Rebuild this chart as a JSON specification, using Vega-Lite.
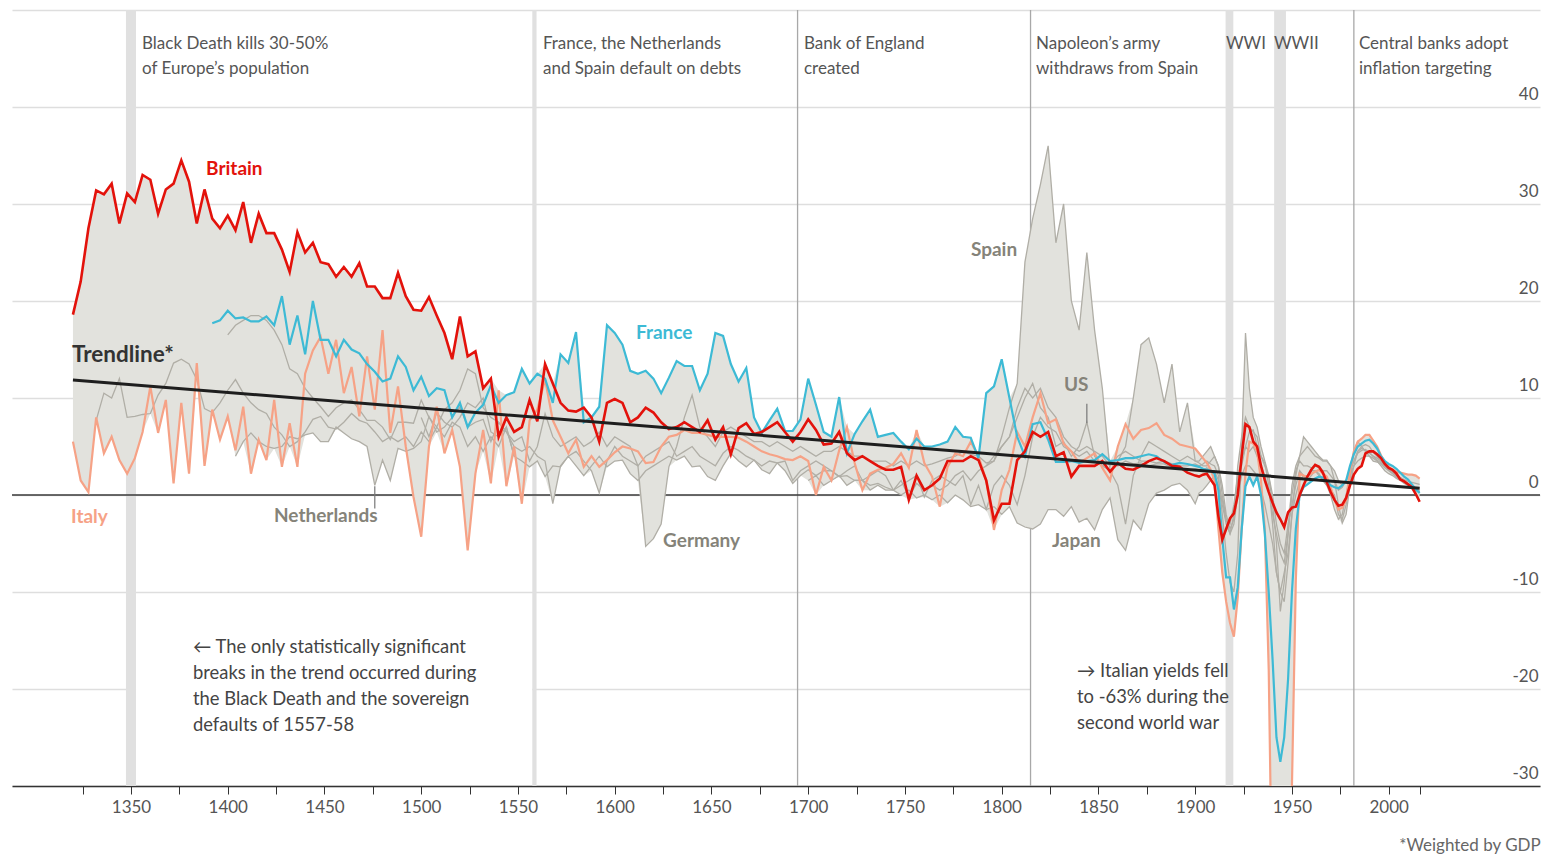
{
"$schema":"https://vega.github.io/schema/vega-lite/v6.json",
"width":1528,"height":776,
"autosize":{"type":"none"},
"padding":{"left":12,"top":10,"right":2,"bottom":68},
"background":"white",
"title":{"text":"*Weighted by GDP","orient":"bottom","anchor":"end","fontSize":17,"fontWeight":"normal","color":"#666666","offset":23,"baseline":"top"},
"config":{"view":{"stroke":null},"font":"Lato"},
"datasets":{
"rates":[
{"year":1320,"B":18.6,"I":5.5},
{"year":1324,"B":22,"I":1.5},
{"year":1328,"B":27.5,"I":0.3},
{"year":1332,"B":31.4,"I":8,"G1":7.7},
{"year":1336,"B":31,"I":4.3,"G1":10.5},
{"year":1340,"B":32.1,"I":6,"G1":10},
{"year":1344,"B":28,"I":3.6,"G1":12},
{"year":1348,"B":31.1,"I":2.2,"G1":8},
{"year":1352,"B":30.2,"I":3.8,"G1":8.1},
{"year":1356,"B":33,"I":6.5,"G1":8.3},
{"year":1360,"B":32.5,"I":11.2,"G1":8.4},
{"year":1364,"B":29,"I":6.4,"G1":10.3},
{"year":1368,"B":31.5,"I":9.8,"G1":11.5},
{"year":1372,"B":32.1,"I":1.2,"G1":13.6},
{"year":1376,"B":34.5,"I":9.5,"G1":14},
{"year":1380,"B":32.3,"I":2.2,"G1":13.5},
{"year":1384,"B":28,"I":13.6,"G1":11.9},
{"year":1388,"B":31.5,"I":3,"G1":8.9},
{"year":1392,"B":28.5,"F":17.7,"I":8.8,"G1":8.5},
{"year":1396,"B":27.5,"F":18,"I":5.7,"G1":9.5},
{"year":1400,"B":28.8,"F":19,"I":8.1,"G1":10.8,"DE":16.5},
{"year":1404,"B":27.3,"F":18.2,"I":4.6,"G1":11.9,"NL":4,"DE":17.5},
{"year":1408,"B":30.2,"F":18.3,"I":9.1,"G1":10.5,"NL":5.5,"DE":18},
{"year":1412,"B":26,"F":17.9,"I":2.2,"G1":9.5,"NL":6.4,"DE":18.5},
{"year":1416,"B":29,"F":17.9,"I":5.7,"G1":8.8,"NL":5.5,"DE":18.5},
{"year":1420,"B":27,"F":18.4,"I":3.6,"G1":8.4,"NL":5,"DE":18},
{"year":1424,"B":27,"F":17.5,"I":9.8,"G1":7,"NL":4.8,"DE":17},
{"year":1428,"B":25.3,"F":20.5,"I":2.9,"G1":6.2,"NL":5,"DE":15.5},
{"year":1432,"B":23,"F":15.5,"I":7.4,"G1":5,"NL":6,"DE":13},
{"year":1436,"B":27.1,"F":18.5,"I":2.9,"G1":5.5,"NL":5.8,"DE":12.5},
{"year":1440,"B":25,"F":14.5,"I":12.5,"G1":6.5,"NL":6.2,"DE":11},
{"year":1444,"B":26,"F":20,"I":14.9,"G1":7.8,"NL":6.4,"DE":10},
{"year":1448,"B":24,"F":16,"I":16.3,"G1":8.1,"NL":5.5,"DE":9.1},
{"year":1452,"B":23.8,"F":16,"I":12.5,"G1":7,"NL":5.5,"DE":8.1},
{"year":1456,"B":22.5,"F":14.3,"I":16,"G1":6.8,"NL":7,"DE":9},
{"year":1460,"B":23.5,"F":16,"I":10.5,"G1":7.5,"NL":6.4,"DE":9.5},
{"year":1464,"B":22.5,"F":15,"I":13.2,"G1":8.4,"NL":5.8,"DE":9.8},
{"year":1468,"B":23.9,"F":14.6,"I":8.1,"G1":7.7,"NL":5.5,"DE":8.8},
{"year":1472,"B":21.5,"F":13.5,"I":14.3,"G1":7.4,"NL":5,"DE":7.7},
{"year":1476,"B":21.5,"F":12.7,"I":8.8,"G1":6.5,"NL":1,"DE":7.7},
{"year":1480,"B":20.3,"F":11.7,"I":17,"G1":5.5,"NL":3.6,"DE":7},
{"year":1484,"B":20.3,"F":12,"I":6.4,"G1":6,"NL":1.5,"DE":5.7},
{"year":1488,"B":22.9,"F":14.3,"I":11.2,"G1":5.5,"NL":4.8,"DE":7.5},
{"year":1492,"B":20.5,"F":13.2,"I":5,"G1":6,"NL":4.5,"DE":7.5},
{"year":1496,"B":19.1,"F":10.8,"I":-0.2,"G1":5,"NL":4.8,"DE":7.4},
{"year":1500,"B":19,"F":12.2,"I":-4.3,"G1":6.5,"NL":5.5,"DE":9.8,"ES":8},
{"year":1504,"B":20.4,"F":10.2,"I":5,"G1":5.5,"NL":8.1,"DE":8,"ES":6},
{"year":1508,"B":18.5,"F":11,"I":9.1,"G1":7,"NL":6.5,"DE":7,"ES":8.5},
{"year":1512,"B":16.7,"F":10.8,"I":4.3,"G1":6,"NL":7,"DE":8.8,"ES":7.5},
{"year":1516,"B":14,"F":8,"I":6.7,"G1":7.5,"NL":8,"DE":9.5,"ES":7},
{"year":1520,"B":18.4,"F":9.5,"I":2.9,"G1":7,"NL":9.1,"DE":10.8,"ES":8},
{"year":1524,"B":14.3,"F":7,"I":-5.7,"G1":5,"NL":7,"DE":13,"ES":9.5},
{"year":1528,"B":14.8,"F":8.5,"I":2.2,"G1":6,"NL":7.5,"DE":12.5,"ES":9},
{"year":1532,"B":11,"F":9.3,"I":6.7,"G1":4.5,"NL":7.8,"DE":9,"ES":10},
{"year":1536,"B":12,"F":11.3,"I":1.2,"G1":6,"NL":5.5,"DE":8,"ES":6.5},
{"year":1540,"B":6,"F":9.5,"I":10.8,"G1":5,"NL":7.5,"DE":7.5,"ES":6},
{"year":1544,"B":8,"F":10.3,"I":0.9,"G1":7,"NL":6.5,"DE":6.5,"ES":7},
{"year":1548,"B":6.5,"F":10.6,"I":5,"G1":4,"NL":5,"DE":5.5,"ES":4},
{"year":1552,"B":7,"F":13,"I":-0.9,"NL":4.5,"DE":6,"ES":3.5},
{"year":1556,"B":9.8,"F":11.5,"I":7.7,"NL":5,"DE":3.5,"ES":2.9},
{"year":1560,"B":7.6,"F":12.5,"I":8.8,"NL":4,"DE":5,"ES":3.5},
{"year":1564,"B":13.5,"F":12,"I":11.9,"NL":3.5,"DE":8.4,"ES":1.9},
{"year":1568,"B":11.5,"F":9.5,"I":7.7,"NL":-0.9,"DE":6,"ES":3},
{"year":1572,"B":9.5,"F":14.5,"I":6,"NL":3,"DE":5,"ES":2.9},
{"year":1576,"B":8.7,"F":13.6,"I":4.3,"NL":4,"DE":5.5,"ES":4},
{"year":1580,"B":8.6,"F":16.8,"I":5.7,"NL":4.5,"DE":6,"ES":3},
{"year":1584,"B":9,"F":7.5,"I":2.9,"NL":3.5,"DE":5,"ES":2},
{"year":1588,"B":8,"F":8,"I":4,"NL":2.5,"DE":5.5,"ES":3},
{"year":1592,"B":5.5,"F":9.1,"I":2.9,"NL":0.2,"DE":6.5,"ES":4},
{"year":1596,"B":9.5,"F":17.5,"I":3.6,"NL":3.5,"DE":5,"ES":2.9},
{"year":1600,"B":9.9,"F":16.7,"I":4.4,"NL":5,"DE":6,"ES":3.5},
{"year":1604,"B":9.5,"F":15.5,"I":5,"NL":4,"DE":5.5,"ES":3.6},
{"year":1608,"B":7.5,"F":12.8,"I":4.8,"NL":3.5,"DE":5,"ES":2.2},
{"year":1612,"B":8,"F":12.5,"I":4.5,"NL":3,"DE":3,"ES":1.5},
{"year":1616,"B":9,"F":12.8,"I":3.3,"NL":4,"DE":-5.3,"ES":2.5},
{"year":1620,"B":8.5,"F":12,"I":3.4,"NL":4.5,"DE":-4.5,"ES":3},
{"year":1624,"B":7.5,"F":10.5,"I":5,"NL":5,"DE":-3,"ES":3.5},
{"year":1628,"B":6.8,"F":12.1,"I":6,"NL":5.5,"DE":2.9,"ES":4},
{"year":1632,"B":7,"F":13.8,"I":6.2,"NL":4,"DE":5,"ES":3.6},
{"year":1636,"B":7.5,"F":13.3,"I":6.7,"NL":4.5,"DE":8,"ES":4},
{"year":1640,"B":7,"F":13.3,"I":6.4,"NL":5,"DE":10.3,"ES":2.9},
{"year":1644,"B":6.5,"F":10.8,"I":6.4,"NL":4,"DE":7,"ES":3},
{"year":1648,"B":7.7,"F":12.5,"I":6.2,"NL":3.5,"DE":6,"ES":1.9},
{"year":1652,"B":5.7,"F":16.7,"I":6,"NL":3,"DE":5,"ES":1.5},
{"year":1656,"B":7,"F":16.4,"I":6,"NL":4.3,"DE":6.5,"ES":3},
{"year":1660,"B":4.2,"F":13.5,"I":6,"NL":5,"DE":7,"ES":4.3},
{"year":1664,"B":6.9,"F":11.7,"I":5.9,"NL":4.6,"DE":6.5,"ES":3.5},
{"year":1668,"B":7.4,"F":13.1,"I":5.5,"NL":4,"DE":6,"ES":2.9},
{"year":1672,"B":6.3,"F":8,"I":5,"NL":3.6,"DE":5.5,"ES":3.6},
{"year":1676,"B":6.5,"F":6.4,"I":4.5,"NL":3,"DE":5.5,"ES":2.6},
{"year":1680,"B":7,"F":7.7,"I":4.2,"NL":3.5,"DE":5,"ES":2.2},
{"year":1684,"B":7.5,"F":8.9,"I":4,"NL":3.3,"DE":5.5,"ES":3.3},
{"year":1688,"B":6.5,"F":6.6,"I":3.7,"NL":3.5,"DE":5,"ES":2.5},
{"year":1692,"B":5.5,"F":6.6,"I":3.6,"NL":1.5,"DE":4.5,"ES":1.2},
{"year":1696,"B":6.5,"F":7.8,"I":4,"NL":2.5,"DE":5,"ES":2},
{"year":1700,"B":7.8,"F":12,"I":3.5,"NL":3,"DE":4.5,"ES":2.6,"JP":1.5},
{"year":1704,"B":6.7,"F":9.3,"I":0,"NL":3.5,"DE":4,"ES":2,"JP":2},
{"year":1708,"B":5.2,"F":6.5,"I":2.9,"NL":3,"DE":4.5,"ES":2.5,"JP":1},
{"year":1712,"B":5.3,"F":6,"I":1.5,"NL":2.5,"DE":4.5,"ES":2.5,"JP":1.5},
{"year":1716,"B":6.5,"F":10.1,"I":4.6,"NL":1.9,"DE":5,"ES":1.9,"JP":2},
{"year":1720,"B":4.3,"F":4.3,"I":7,"NL":2.5,"DE":4.5,"ES":2,"JP":1},
{"year":1724,"B":3.6,"F":6.3,"I":3.3,"NL":3,"DE":4,"ES":1.5,"JP":1.5},
{"year":1728,"B":4,"F":7.6,"I":0.5,"NL":1.5,"DE":4,"ES":1.5,"JP":1.5},
{"year":1732,"B":3.5,"F":8.8,"I":2.2,"NL":2,"DE":3.5,"ES":1,"JP":0.5},
{"year":1736,"B":3,"F":6,"I":2.6,"NL":2.5,"DE":3.5,"ES":1.2,"JP":1},
{"year":1740,"B":2.6,"F":6.2,"I":2.8,"NL":2,"DE":3.5,"ES":0.8,"JP":0.5},
{"year":1744,"B":2.6,"F":6.4,"I":3.2,"NL":0.5,"DE":3,"ES":0.5,"JP":0.5},
{"year":1748,"B":2.9,"F":5.5,"I":4.3,"NL":1,"DE":3.5,"ES":1.5,"JP":0},
{"year":1752,"B":-0.5,"F":4.7,"I":2.8,"NL":1.5,"DE":3,"ES":-0.2,"JP":0.5},
{"year":1756,"B":2,"F":5.8,"I":6.7,"NL":2,"DE":3.5,"ES":1.2,"JP":-0.3},
{"year":1760,"B":0.5,"F":5,"I":3.3,"NL":-0.2,"DE":3,"ES":0.5,"JP":0},
{"year":1764,"B":1,"F":5,"I":1.9,"NL":1.5,"DE":3.2,"ES":1,"JP":-0.5},
{"year":1768,"B":1.7,"F":5.2,"I":-1.2,"NL":2,"DE":3.5,"ES":0.5,"JP":0},
{"year":1772,"B":3.5,"F":5.5,"I":2.9,"NL":1.5,"DE":3.8,"ES":1,"JP":-0.8},
{"year":1776,"B":3.5,"F":7,"I":4.3,"NL":1,"DE":4,"ES":2,"JP":0},
{"year":1780,"B":3.5,"F":6,"I":4,"NL":2,"DE":4.5,"ES":2.5,"JP":-0.5},
{"year":1784,"B":4,"F":5.9,"I":5.5,"NL":-1,"DE":4.2,"ES":1.5,"JP":-1.2},
{"year":1788,"B":3.6,"F":3.8,"I":4,"NL":1,"DE":4,"ES":2.5,"JP":-1},
{"year":1792,"B":1.5,"F":10.5,"I":1.5,"NL":-1.5,"DE":3.3,"ES":3,"US":3,"JP":-1.5},
{"year":1796,"B":-2.6,"F":11.2,"I":-3.6,"NL":1,"DE":3.5,"ES":3.5,"US":4,"JP":-1.2},
{"year":1800,"B":-0.9,"F":14,"I":0.5,"NL":2,"DE":5,"ES":6,"US":5,"JP":-2},
{"year":1804,"B":-0.9,"F":10,"I":2.6,"NL":1,"DE":6,"ES":9,"US":6,"JP":-1.2},
{"year":1808,"B":3.6,"F":6,"I":6.5,"NL":-1,"DE":9,"ES":11.5,"US":8,"JP":-2.9},
{"year":1812,"B":4.5,"F":4,"I":5,"NL":2,"DE":11,"ES":24,"US":10,"JP":-3.3},
{"year":1816,"B":6.5,"F":7.3,"I":8,"NL":6,"DE":10,"ES":28.5,"US":11.5,"JP":-3.5},
{"year":1820,"B":6,"F":7.5,"I":10.5,"NL":8,"DE":11,"ES":32,"US":9,"JP":-3},
{"year":1824,"B":6.5,"F":5.7,"I":7.4,"NL":7,"DE":9,"ES":36,"US":8,"JP":-1.5},
{"year":1828,"B":4,"F":3.4,"I":7.8,"NL":6.5,"DE":8,"ES":26,"US":5,"JP":-1.5},
{"year":1832,"B":4.4,"F":3.4,"I":5.3,"NL":5,"DE":6,"ES":30,"US":5.5,"JP":-2.2},
{"year":1836,"B":1.9,"F":3.5,"I":4.5,"NL":4.5,"DE":5,"ES":20,"US":4,"JP":-1.2},
{"year":1840,"B":3,"F":3.3,"I":3.3,"NL":4,"DE":4.5,"ES":17,"US":5,"JP":-2.8},
{"year":1844,"B":3,"F":3.5,"I":3.8,"NL":4.5,"DE":5,"ES":25,"US":7.5,"JP":-2.4},
{"year":1848,"B":3,"F":3.6,"I":4.3,"NL":3.5,"DE":4.5,"ES":17,"US":4,"JP":-3.6},
{"year":1852,"B":3.5,"F":4.2,"I":2.8,"NL":3,"DE":4,"ES":11,"US":3,"JP":-1.5},
{"year":1856,"B":2.4,"F":3.5,"I":1.5,"NL":3.5,"DE":3,"ES":2.5,"US":2.5,"JP":-0.3},
{"year":1860,"B":3.3,"F":3.6,"I":5,"NL":3,"DE":4,"ES":3.5,"US":1,"JP":-4.6},
{"year":1864,"B":2.7,"F":3.8,"I":7.3,"NL":3.5,"DE":4.5,"ES":5,"US":-3,"JP":-5.7},
{"year":1868,"B":2.6,"F":3.8,"I":5.8,"NL":3.2,"DE":4,"ES":10,"US":2,"JP":-2.6},
{"year":1872,"B":3,"F":4,"I":6.7,"NL":3.3,"DE":3.5,"ES":15.5,"US":4,"JP":-3.6},
{"year":1876,"B":3.5,"F":4.2,"I":6.9,"NL":3,"DE":3.5,"ES":16.2,"US":5.5,"JP":-0.9},
{"year":1880,"B":3.8,"F":4,"I":7.4,"NL":3.2,"DE":3.3,"ES":13.5,"US":5,"JP":0.2},
{"year":1884,"B":3.5,"F":3.4,"I":6.2,"NL":3.2,"DE":3.5,"ES":9.5,"US":4.5,"JP":0.5},
{"year":1888,"B":3,"F":3.1,"I":5.8,"NL":2.8,"DE":3.2,"ES":13.5,"US":4,"JP":1},
{"year":1892,"B":2.9,"F":3.3,"I":5.2,"NL":2.8,"DE":3,"ES":6.5,"US":3.5,"JP":1.2},
{"year":1896,"B":2.3,"F":3.2,"I":5,"NL":2.6,"DE":3,"ES":9.5,"US":4,"JP":0.5},
{"year":1900,"B":2,"F":3,"I":4.8,"NL":2.7,"DE":3.2,"ES":3.5,"US":3.5,"JP":-0.9},
{"year":1902,"B":1.9,"F":2.9,"I":4.3,"NL":2.6,"DE":3,"ES":3.5,"US":3.3,"JP":0.2},
{"year":1904,"B":2.1,"F":2.7,"I":3.8,"NL":2.5,"DE":3.2,"ES":4,"US":3,"JP":0.5},
{"year":1906,"B":2.2,"F":2.6,"I":3.3,"NL":2.8,"DE":3.5,"ES":4.5,"US":3,"JP":1},
{"year":1908,"B":1.6,"F":2.5,"I":2.6,"NL":2.5,"DE":3.2,"ES":5,"US":3.5,"JP":1.5},
{"year":1910,"B":1,"F":2.2,"I":1.5,"NL":2.5,"DE":3,"ES":4,"US":4,"JP":2},
{"year":1912,"B":-2.2,"F":0.5,"I":-3.5,"NL":1.5,"DE":2,"ES":3,"US":3,"JP":1},
{"year":1914,"B":-4.6,"F":-4.5,"I":-8,"NL":-1,"DE":-2,"ES":0,"US":1,"JP":-0.5},
{"year":1916,"B":-3.5,"F":-8.5,"I":-11,"NL":-3,"DE":-6,"ES":-2.5,"US":-2,"JP":-2.6},
{"year":1918,"B":-2.4,"F":-8.5,"I":-13.2,"NL":-4,"DE":-9,"ES":-3,"US":-3.5,"JP":-4},
{"year":1920,"B":-1.9,"F":-11.8,"I":-14.6,"NL":-2,"DE":-10,"ES":-1,"US":-2.5,"JP":-3},
{"year":1922,"B":0,"F":-9.5,"I":-10.5,"NL":2,"DE":-6,"ES":2,"US":3,"JP":0},
{"year":1924,"B":4,"F":-3.6,"I":-3.6,"NL":3.5,"DE":5,"ES":3,"US":6,"JP":2},
{"year":1926,"B":7.3,"F":0.9,"I":2.3,"NL":5,"DE":16.7,"ES":5,"US":8,"JP":3},
{"year":1928,"B":7,"F":1.9,"I":5.5,"NL":4.5,"DE":11,"ES":6.5,"US":7,"JP":3},
{"year":1930,"B":5.5,"F":1,"I":5.3,"NL":5,"DE":8,"ES":6.7,"US":6.5,"JP":2.5},
{"year":1932,"B":5,"F":1.9,"I":4.5,"NL":4,"DE":7,"ES":5,"US":6,"JP":2},
{"year":1934,"B":3,"F":0,"I":1.5,"NL":3,"DE":5,"ES":4,"US":4,"JP":0.5},
{"year":1936,"B":1.5,"F":-4,"I":-3.6,"NL":2,"DE":3.5,"ES":3.3,"US":3,"JP":-1},
{"year":1938,"B":0.3,"F":-10,"I":-18,"NL":0.5,"DE":2,"ES":1,"US":2,"JP":-3},
{"year":1940,"B":-0.8,"F":-17,"I":-45,"NL":-2,"DE":-1,"ES":-3,"US":0,"JP":-5},
{"year":1942,"B":-1.8,"F":-25,"I":-60,"NL":-4,"DE":-5,"ES":-8,"US":-3,"JP":-8},
{"year":1944,"B":-2.5,"F":-27.5,"I":-63,"NL":-6,"DE":-12,"ES":-10,"US":-5,"JP":-10},
{"year":1946,"B":-3.3,"F":-25,"I":-55,"NL":-7,"DE":-9,"ES":-8,"US":-6,"JP":-11},
{"year":1948,"B":-1.8,"F":-19,"I":-45,"NL":-4,"DE":-4,"ES":-6,"US":-3,"JP":-7},
{"year":1950,"B":-1.3,"F":-10,"I":-30,"NL":0,"DE":1,"ES":-2,"US":-1,"JP":-2},
{"year":1952,"B":-1.2,"F":-3.5,"I":-8.8,"NL":2.5,"DE":3,"ES":2,"US":1,"JP":0},
{"year":1954,"B":0,"F":0,"I":2.2,"NL":3.5,"DE":4,"ES":4,"US":2.5,"JP":1.5},
{"year":1956,"B":1,"F":0.8,"I":2,"NL":3,"DE":4.5,"ES":6,"US":2,"JP":2},
{"year":1958,"B":1.9,"F":1.1,"I":1.9,"NL":3,"DE":5,"ES":5.5,"US":1.5,"JP":2},
{"year":1960,"B":2.6,"F":1.4,"I":2.2,"NL":2.8,"DE":4.5,"ES":5,"US":2,"JP":2.5},
{"year":1962,"B":3.1,"F":1.7,"I":2.4,"NL":3,"DE":4,"ES":4.5,"US":2.5,"JP":2.5},
{"year":1964,"B":2.9,"F":1.9,"I":2.6,"NL":2.8,"DE":3.8,"ES":4,"US":2.2,"JP":2},
{"year":1966,"B":2.3,"F":1.8,"I":2.2,"NL":2.5,"DE":3.5,"ES":3.6,"US":1.5,"JP":1.5},
{"year":1968,"B":1.3,"F":1.4,"I":1.9,"NL":2.5,"DE":3.5,"ES":3.6,"US":1,"JP":1},
{"year":1970,"B":0.3,"F":1,"I":0.8,"NL":2,"DE":3,"ES":3,"US":0.5,"JP":0},
{"year":1972,"B":-0.5,"F":0.8,"I":-0.5,"NL":1.5,"DE":2.5,"ES":1.5,"US":0,"JP":-1.5},
{"year":1974,"B":-1.1,"F":0.7,"I":-1.5,"NL":0.5,"DE":1.5,"ES":-1,"US":-2,"JP":-2.5},
{"year":1976,"B":-1,"F":1,"I":-1.3,"NL":0.8,"DE":1,"ES":-2.9,"US":-2.5,"JP":-2},
{"year":1978,"B":-0.3,"F":1.5,"I":-0.5,"NL":1.5,"DE":1.5,"ES":-2,"US":-1,"JP":0},
{"year":1980,"B":1,"F":3,"I":2.5,"NL":2.5,"DE":2.5,"ES":1,"US":1.5,"JP":2},
{"year":1982,"B":2.1,"F":4.2,"I":4.5,"NL":3.5,"DE":3.5,"ES":3,"US":4.5,"JP":3},
{"year":1984,"B":2.7,"F":5,"I":5.5,"NL":4.5,"DE":4.3,"ES":4.5,"US":5.5,"JP":3.5},
{"year":1986,"B":3,"F":5.3,"I":5.8,"NL":4.8,"DE":4.6,"ES":5,"US":5,"JP":3.8},
{"year":1988,"B":4.3,"F":5.6,"I":6.2,"NL":4.6,"DE":4.7,"ES":5.2,"US":4.5,"JP":4},
{"year":1990,"B":4.5,"F":5.7,"I":6.2,"NL":4.3,"DE":4.4,"ES":5,"US":4,"JP":4},
{"year":1992,"B":4.5,"F":5.3,"I":5.6,"NL":4,"DE":4,"ES":4.4,"US":3.5,"JP":3.8},
{"year":1994,"B":4.2,"F":4.8,"I":5,"NL":3.8,"DE":3.6,"ES":4,"US":3.4,"JP":3.5},
{"year":1996,"B":3.8,"F":4,"I":4.1,"NL":3.5,"DE":3.3,"ES":3.5,"US":3.2,"JP":3},
{"year":1998,"B":3.2,"F":3.5,"I":3.4,"NL":3,"DE":3,"ES":3,"US":2.8,"JP":2.5},
{"year":2000,"B":2.8,"F":3.2,"I":2.9,"NL":2.7,"DE":2.6,"ES":2.6,"US":2.5,"JP":2.2},
{"year":2002,"B":2.6,"F":3,"I":2.6,"NL":2.4,"DE":2.3,"ES":2.3,"US":2.2,"JP":2},
{"year":2004,"B":2.2,"F":2.7,"I":2.4,"NL":2,"DE":2,"ES":2,"US":1.8,"JP":1.7},
{"year":2006,"B":1.6,"F":2.3,"I":2.3,"NL":1.8,"DE":1.7,"ES":1.8,"US":1.6,"JP":1.5},
{"year":2008,"B":1.4,"F":1.9,"I":2.2,"NL":1.5,"DE":1.4,"ES":1.6,"US":1.3,"JP":1.2},
{"year":2010,"B":1.1,"F":1.6,"I":2.1,"NL":1.2,"DE":1.2,"ES":1.4,"US":1,"JP":1},
{"year":2012,"B":0.8,"F":1.1,"I":2.1,"NL":0.9,"DE":0.8,"ES":1.3,"US":0.8,"JP":0.8},
{"year":2014,"B":0.1,"F":0.6,"I":2,"NL":0.5,"DE":0.5,"ES":1.2,"US":0.5,"JP":0.6},
{"year":2016,"B":-0.7,"F":0.2,"I":1.7,"NL":0.3,"DE":0.2,"ES":1.1,"US":0.3,"JP":0.4}
],
"trend":[{"year":1320,"value":11.85},{"year":2016,"value":0.7}],
"gaps":[{"year":1352.6,"end":1557.4,"value":-20.6,"hi":-19.4},{"year":1815,"end":1949,"value":-20.6,"hi":-19.4}],
"bands":[{"year":1347.4,"end":1352.6,"value":-30,"hi":50},{"year":1557.4,"end":1559.6,"value":-30,"hi":50},{"year":1915.7,"end":1919.7,"value":-30,"hi":50},{"year":1940.8,"end":1946.9,"value":-30,"hi":50}],
"lines":[{"year":1694.5,"value":-30,"hi":50},{"year":1814.9,"value":-30,"hi":50},{"year":1982,"value":-30,"hi":50}],
"zero":[{"year":1288.5,"end":2078.2,"value":0}],
"pointers":[{"year":1476,"value":0.9,"bottom":-1.4},{"year":1844,"value":9.4,"bottom":7.4}],
"labels":[
{"year":1388.8,"value":33.6,"text":"Britain","who":"Britain"},
{"year":1611,"value":16.7,"text":"France","who":"France"},
{"year":1319,"value":-2.3,"text":"Italy","who":"Italy"},
{"year":1423.9,"value":-2.2,"text":"Netherlands","who":"Other"},
{"year":1625,"value":-4.7,"text":"Germany","who":"Other"},
{"year":1784.1,"value":25.3,"text":"Spain","who":"Other"},
{"year":1832.2,"value":11.3,"text":"US","who":"Other"},
{"year":1826,"value":-4.7,"text":"Japan","who":"Other"}
],
"tlabel":[{"year":1319.5,"value":14.4,"text":"Trendline*"}],
"events":[
{"year":1355.7,"value":46.0,"text":"Black Death kills 30-50%\nof Europe’s population"},
{"year":1562.9,"value":46.0,"text":"France, the Netherlands\nand Spain default on debts"},
{"year":1697.8,"value":46.0,"text":"Bank of England\ncreated"},
{"year":1817.7,"value":46.0,"text":"Napoleon’s army\nwithdraws from Spain"},
{"year":1915.9,"value":46.0,"text":"WWI"},
{"year":1940.7,"value":46.0,"text":"WWII"},
{"year":1984.6,"value":46.0,"text":"Central banks adopt\ninflation targeting"}
],
"notes":[
{"year":1382,"value":-16.3,"text":"← The only statistically significant\nbreaks in the trend occurred during\nthe Black Death and the sovereign\ndefaults of 1557-58"},
{"year":1838.9,"value":-18.8,"text":"→ Italian yields fell\nto -63% during the\nsecond world war"}
]
},
"encoding":{
 "x":{"field":"year","type":"quantitative","scale":{"domain":[1288.5,2078.2],"nice":false,"zero":false},
  "axis":{"title":null,"values":[1325,1350,1375,1400,1425,1450,1475,1500,1525,1550,1575,1600,1625,1650,1675,1700,1725,1750,1775,1800,1825,1850,1875,1900,1925,1950,1975,2000,2016],
   "labelExpr":"datum.value % 50 == 0 ? datum.label : ''","format":"d","grid":false,"domainColor":"#333333","domainWidth":1.5,
   "tickColor":"#333333","tickSize":8,"tickWidth":1,"labelFontSize":17,"labelColor":"#555555","labelPadding":5,"labelFlush":false,"labelOverlap":false}},
 "y":{"field":"value","type":"quantitative","scale":{"domain":[-30,50],"nice":false,"zero":false},
  "axis":{"title":null,"orient":"right","values":[-30,-20,-10,0,10,20,30,40,50],"labelExpr":"datum.value == 50 ? '' : '' + datum.value",
   "grid":true,"gridColor":"#dedede","gridWidth":1.6,"domain":false,"ticks":false,"tickSize":0,"labelAlign":"right","labelBaseline":"bottom",
   "labelPadding":-2,"labelOffset":-4,"labelFontSize":17,"labelColor":"#555555"}}
},
"layer":[
{"data":{"name":"gaps"},"mark":{"type":"rect","color":"white"},"encoding":{"x2":{"field":"end"},"y2":{"field":"hi"}}},
{"data":{"name":"bands"},"mark":{"type":"rect","color":"#e0e0e0"},"encoding":{"x2":{"field":"end"},"y2":{"field":"hi"}}},
{"data":{"name":"lines"},"mark":{"type":"rule","color":"#a8a8a8","strokeWidth":1.3},"encoding":{"y2":{"field":"hi"}}},
{"data":{"name":"zero"},"mark":{"type":"rule","color":"#3a3a3a","strokeWidth":1.5},"encoding":{"x2":{"field":"end"}}},
{"data":{"name":"rates"},
 "transform":[{"fold":["B","F","I","G1","NL","DE","ES","US","JP"],"as":["series","v"]},{"filter":"isValid(datum.v)"},
  {"aggregate":[{"op":"max","field":"v","as":"value"},{"op":"min","field":"v","as":"lo"}],"groupby":["year"]}],
 "mark":{"type":"area","color":"#e2e2dd","clip":true},
 "encoding":{"y2":{"field":"lo"}}},
{"data":{"name":"rates"},
 "transform":[{"fold":["G1","NL","DE","ES","US","JP"],"as":["series","value"]},{"filter":"isValid(datum.value)"}],
 "mark":{"type":"line","color":"#b0aea6","strokeWidth":1.3,"clip":true},
 "encoding":{"detail":{"field":"series"}}},
{"data":{"name":"rates"},"transform":[{"fold":["I"],"as":["series","value"]},{"filter":"isValid(datum.value)"}],
 "mark":{"type":"line","color":"#f6a286","strokeWidth":2.2,"clip":true}},
{"data":{"name":"rates"},"transform":[{"fold":["F"],"as":["series","value"]},{"filter":"isValid(datum.value)"}],
 "mark":{"type":"line","color":"#3dbad5","strokeWidth":2.2,"clip":true}},
{"data":{"name":"rates"},"transform":[{"fold":["B"],"as":["series","value"]},{"filter":"isValid(datum.value)"}],
 "mark":{"type":"line","color":"#e3120b","strokeWidth":2.6,"clip":true}},
{"data":{"name":"trend"},"mark":{"type":"line","color":"#1e1e1e","strokeWidth":3}},
{"data":{"name":"pointers"},"mark":{"type":"rule","color":"#777777","strokeWidth":1.2},"encoding":{"y2":{"field":"bottom"}}},
{"data":{"name":"labels"},"mark":{"type":"text","align":"left","baseline":"middle","fontSize":19,"fontWeight":"bold"},
 "encoding":{"text":{"field":"text"},
  "color":{"field":"who","type":"nominal","scale":{"domain":["Britain","France","Italy","Other"],"range":["#e3120b","#3dbad5","#f6a286","#858379"]},"legend":null}}},
{"data":{"name":"tlabel"},"mark":{"type":"text","align":"left","baseline":"middle","fontSize":22.5,"fontWeight":"bold","color":"#333333"},
 "encoding":{"text":{"field":"text"}}},
{"data":{"name":"events"},"mark":{"type":"text","align":"left","baseline":"alphabetic","fontSize":17,"color":"#555555","lineBreak":"\n","lineHeight":25},
 "encoding":{"text":{"field":"text"}}},
{"data":{"name":"notes"},"mark":{"type":"text","align":"left","baseline":"alphabetic","fontSize":18.4,"color":"#444444","lineBreak":"\n","lineHeight":26},
 "encoding":{"text":{"field":"text"}}}
]
}
